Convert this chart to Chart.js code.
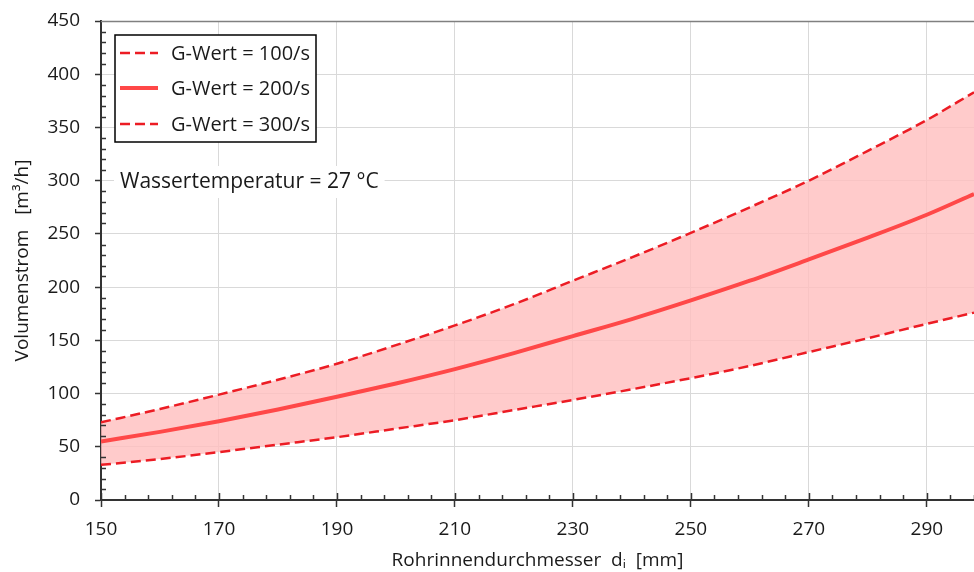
<!DOCTYPE html>
<html><head><meta charset="utf-8">
<script src="https://cdn.jsdelivr.net/npm/chart.js@4/dist/chart.umd.min.js"></script>
<style>html,body{margin:0;padding:0;background:#fff;} #wrap{width:974px;height:572px;position:relative;}</style>
</head><body><div id="wrap"><canvas id="c" width="974" height="572"></canvas></div>
<script>
// ---- data ----
const diameters = [150,160,170,180,190,200,210,220,230,240,250,260,270,280,290,298];
const gWert100 = [33,38.5,45,52,59,67,75,84.5,94,104,114.5,126,139,152,165.5,176];
const gWert200 = [55,64,74,85,97,109.5,123,138,154,170,187.5,206,226,246.5,268,287.5];
const gWert300 = [73,85.5,99,113,128,145.5,164,184,206,228,251,275,300,328,357,383];
const seriesLabels = ['G-Wert = 100/s','G-Wert = 200/s','G-Wert = 300/s'];
const xTicks = [150,170,190,210,230,250,270,290];
const yTicks = [0,50,100,150,200,250,300,350,400,450];
const xTitle = 'Rohrinnendurchmesser  d\u1D62  [mm]';
const yTitle = 'Volumenstrom   [m\u00B3/h]';
const annotationText = 'Wassertemperatur = 27 \u00B0C';

const FONT = '"Open Sans", "Noto Sans", sans-serif';
const DASH_COLOR = '#ec1c24';
const MID_COLOR = '#ff4848';
const FILL_COLOR = 'rgba(255,190,190,0.8)';

const toPts = arr => arr.map((v,i)=>({x:diameters[i], y:v}));

const extras = {
  id:'extras',
  beforeDatasetsDraw(chart){
    const {ctx, chartArea:a, scales:{x, y}} = chart;
    ctx.save();
    // top border
    ctx.strokeStyle = '#808080'; ctx.lineWidth = 1.5;
    ctx.beginPath(); ctx.moveTo(a.left, a.top+0.5); ctx.lineTo(a.right, a.top+0.5); ctx.stroke();
    ctx.strokeStyle = '#333'; ctx.lineWidth = 1.5;
    // x minor ticks (every 4) and inner part of major ticks
    for (let v = 150; v <= 298; v += 4) {
      const px = Math.round(x.getPixelForValue(v)) + 0.5;
      const major = (v - 150) % 20 === 0;
      ctx.beginPath(); ctx.moveTo(px, a.bottom); ctx.lineTo(px, a.bottom - (major ? 7 : 5)); ctx.stroke();
    }
    // y minor ticks (every 10), inside
    for (let v = 10; v < 450; v += 10) {
      if (v % 50 === 0) continue;
      const py = Math.round(y.getPixelForValue(v)) + 0.5;
      ctx.beginPath(); ctx.moveTo(a.left, py); ctx.lineTo(a.left + 5, py); ctx.stroke();
    }
    ctx.restore();
  },
  afterDraw(chart){
    const {ctx} = chart;
    ctx.save();
    // legend box
    const bx = 115, by = 35, bw = 201, bh = 107;
    ctx.fillStyle = '#fff'; ctx.fillRect(bx, by, bw, bh);
    ctx.strokeStyle = '#000'; ctx.lineWidth = 1.5; ctx.strokeRect(bx, by, bw, bh);
    const rows = [53, 88, 124];
    chart.data.datasets.forEach((ds, i) => {
      ctx.strokeStyle = ds.borderColor; ctx.lineWidth = ds.borderWidth;
      ctx.setLineDash(ds.borderDash || []);
      ctx.beginPath(); ctx.moveTo(120, rows[i]); ctx.lineTo(158, rows[i]); ctx.stroke();
      ctx.setLineDash([]);
      ctx.fillStyle = '#1a1a1a'; ctx.font = '20px ' + FONT; ctx.textBaseline = 'middle'; ctx.textAlign = 'left';
      ctx.fillText(ds.label, 171, rows[i] + 1);
    });
    // annotation
    ctx.font = '21px ' + FONT; ctx.textBaseline = 'middle';
    const w = ctx.measureText(annotationText).width;
    ctx.fillStyle = '#fff'; ctx.fillRect(114, 166, w + 12, 32);
    ctx.fillStyle = '#1a1a1a'; ctx.fillText(annotationText, 120, 182);
    ctx.restore();
  }
};

new Chart(document.getElementById('c'), {
  type: 'line',
  data: {
    datasets: [
      {label: seriesLabels[0], data: toPts(gWert100), borderColor: DASH_COLOR, borderWidth: 2.5, borderDash: [10,5], pointRadius: 0, fill: false, cubicInterpolationMode: 'monotone'},
      {label: seriesLabels[1], data: toPts(gWert200), borderColor: MID_COLOR, borderWidth: 4, pointRadius: 0, fill: false, cubicInterpolationMode: 'monotone'},
      {label: seriesLabels[2], data: toPts(gWert300), borderColor: DASH_COLOR, borderWidth: 2.5, borderDash: [10,5], pointRadius: 0, fill: '-2', backgroundColor: FILL_COLOR, cubicInterpolationMode: 'monotone'}
    ]
  },
  options: {
    responsive: false, animation: false, devicePixelRatio: 1,
    layout: {padding: {top: 21, right: 0, bottom: 0, left: 0}},
    plugins: {legend: {display: false}, tooltip: {enabled: false}, filler: {drawTime: 'beforeDatasetsDraw'}},
    scales: {
      x: {
        type: 'linear', min: 150, max: 298,
        afterBuildTicks: s => { s.ticks = xTicks.map(v => ({value: v})); },
        afterFit: s => { s.height = 72; s.paddingLeft = 0; s.paddingRight = 0; },
        grid: {color: '#d9d9d9', lineWidth: 1, tickLength: 7, tickColor: '#333', tickWidth: 1.5},
        border: {color: '#333', width: 2},
        ticks: {font: {family: FONT, size: 19}, color: '#1a1a1a', padding: 11, maxRotation: 0},
        title: {display: true, text: xTitle, font: {family: FONT, size: 19}, color: '#1a1a1a', padding: {top: 0, bottom: 0}}
      },
      y: {
        type: 'linear', min: 0, max: 450,
        afterBuildTicks: s => { s.ticks = yTicks.map(v => ({value: v})); },
        afterFit: s => { s.width = 101; s.paddingTop = 0; s.paddingBottom = 0; },
        grid: {color: '#d9d9d9', lineWidth: 1, tickLength: 6, tickColor: '#333', tickWidth: 1.5},
        border: {color: '#333', width: 2},
        ticks: {font: {family: FONT, size: 19}, color: '#1a1a1a', padding: 15},
        title: {display: true, text: yTitle, font: {family: FONT, size: 19}, color: '#1a1a1a', padding: {top: 11, bottom: 0}}
      }
    }
  },
  plugins: [extras]
});
</script></body></html>
